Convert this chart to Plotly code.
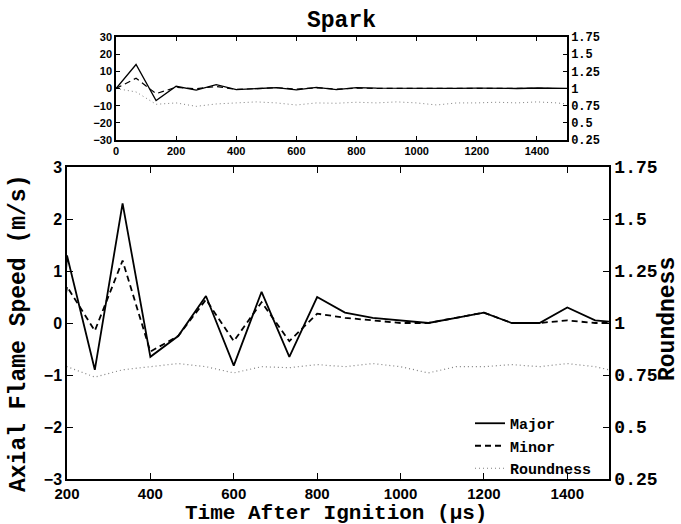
import plotly.graph_objects as go

# ---- data ----
time_us = [0, 66.7, 133.3, 200, 266.7, 333.3, 400, 466.7, 533.3, 600, 666.7, 733.3,
           800, 866.7, 933.3, 1000, 1066.7, 1133.3, 1200, 1266.7, 1333.3, 1400, 1466.7, 1533.3]
major = [0, 14, -7, 1.3, -0.9, 2.3, -0.65, -0.25, 0.52, -0.82, 0.6, -0.65,
         0.5, 0.2, 0.1, 0.05, 0.0, 0.1, 0.2, 0.0, 0.0, 0.3, 0.05, 0.0]
minor = [0, 6, -3, 0.7, -0.15, 1.2, -0.55, -0.25, 0.45, -0.35, 0.4, -0.35,
         0.18, 0.1, 0.05, 0.0, 0.0, 0.1, 0.2, 0.0, 0.0, 0.05, 0.0, 0.0]
roundness = [1.0, 0.95, 0.77, 0.79, 0.74, 0.775, 0.79, 0.805, 0.79, 0.76, 0.79, 0.785,
             0.80, 0.79, 0.805, 0.79, 0.76, 0.79, 0.79, 0.80, 0.79, 0.805, 0.79, 0.76]

main_xticks = [200, 400, 600, 800, 1000, 1200, 1400]
top_xticks = [0, 200, 400, 600, 800, 1000, 1200, 1400]
round_ticks = [0.25, 0.5, 0.75, 1, 1.25, 1.5, 1.75]
round_ticktext = ["0.25", "0.5", "0.75", "1", "1.25", "1.5", "1.75"]

W, H = 681, 524
SANS = "Liberation Sans"
MONO = "Liberation Mono"

major_line = dict(color="black", width=1.8)
minor_line = dict(color="black", width=1.8, dash="6px,4px")
round_line = dict(color="#808080", width=1.2, dash="1px,3px")

fig = go.Figure()
# main plot
fig.add_trace(go.Scatter(x=time_us, y=major, mode="lines", name="Major", line=major_line,
                         xaxis="x", yaxis="y"))
fig.add_trace(go.Scatter(x=time_us, y=minor, mode="lines", name="Minor", line=minor_line,
                         xaxis="x", yaxis="y"))
fig.add_trace(go.Scatter(x=time_us, y=roundness, mode="lines", name="Roundness", line=round_line,
                         xaxis="x", yaxis="y2"))
# top (spark) plot
fig.add_trace(go.Scatter(x=time_us, y=major, mode="lines", showlegend=False,
                         line=dict(color="black", width=1.3),
                         xaxis="x2", yaxis="y3"))
fig.add_trace(go.Scatter(x=time_us, y=minor, mode="lines", showlegend=False,
                         line=dict(color="black", width=1.2, dash="6px,4px"),
                         xaxis="x2", yaxis="y3"))
fig.add_trace(go.Scatter(x=time_us, y=roundness, mode="lines", showlegend=False,
                         line=dict(color="#808080", width=1.0, dash="1px,3px"),
                         xaxis="x2", yaxis="y4"))

def px_x(p):
    return p / W

def px_y(p):
    return 1 - p / H

axis_common = dict(showline=True, linecolor="black", linewidth=1.5, ticks="inside",
                   tickcolor="black", showgrid=False, zeroline=False, automargin=False)

fig.update_layout(
    template="none",
    width=W, height=H,
    margin=dict(l=0, r=0, t=0, b=0, pad=0, autoexpand=False),
    paper_bgcolor="white", plot_bgcolor="white",
    showlegend=True,
    legend=dict(x=px_x(470), y=px_y(407), xanchor="left", yanchor="top",
                bgcolor="rgba(0,0,0,0)", borderwidth=0,
                font=dict(family=MONO, size=15, color="black", weight="bold"),
                tracegroupgap=0),
    xaxis=dict(domain=[px_x(67), px_x(609)], range=[200, 1500], anchor="y",
               tickvals=main_xticks, ticklen=6, mirror="ticks",
               tickfont=dict(family=SANS, size=15, color="black", weight="bold"),
               **axis_common),
    yaxis=dict(domain=[px_y(479), px_y(167)], range=[-3, 3], anchor="x",
               tickvals=[-3, -2, -1, 0, 1, 2, 3], ticklen=6, mirror=True,
               tickfont=dict(family=SANS, size=16, color="black", weight="bold"),
               **axis_common),
    yaxis2=dict(overlaying="y", side="right", anchor="x", range=[0.25, 1.75],
                tickvals=round_ticks, ticktext=round_ticktext, ticklen=6,
                tickfont=dict(family=MONO, size=18, color="black", weight="bold"),
                **axis_common),
    xaxis2=dict(domain=[px_x(116), px_x(567)], range=[0, 1500], anchor="y3",
                tickvals=top_xticks, ticklen=4, mirror="ticks",
                tickfont=dict(family=SANS, size=11, color="black", weight="bold"),
                **axis_common),
    yaxis3=dict(domain=[px_y(140), px_y(37)], range=[-30, 30], anchor="x2",
                tickvals=[-30, -20, -10, 0, 10, 20, 30], ticklen=4, mirror=True,
                tickfont=dict(family=SANS, size=11, color="black", weight="bold"),
                **axis_common),
    yaxis4=dict(overlaying="y3", side="right", anchor="x2", range=[0.25, 1.75],
                tickvals=round_ticks, ticktext=round_ticktext, ticklen=4,
                tickfont=dict(family=MONO, size=12, color="black", weight="bold"),
                **axis_common),
)

ann_font_big = dict(family=MONO, size=23, color="black", weight="bold")
fig.add_annotation(text="Spark", x=px_x(341), y=px_y(21), xref="paper", yref="paper",
                   showarrow=False, xanchor="center", yanchor="middle", font=ann_font_big)
fig.add_annotation(text="Time After Ignition (μs)", x=px_x(336), y=px_y(513),
                   xref="paper", yref="paper", showarrow=False,
                   xanchor="center", yanchor="middle",
                   font=dict(family=MONO, size=21, color="black", weight="bold"))
fig.add_annotation(text="Axial Flame Speed (m/s)", x=px_x(19), y=px_y(334),
                   xref="paper", yref="paper", showarrow=False, textangle=-90,
                   xanchor="center", yanchor="middle", font=ann_font_big)
fig.add_annotation(text="Roundness", x=px_x(668), y=px_y(319),
                   xref="paper", yref="paper", showarrow=False, textangle=-90,
                   xanchor="center", yanchor="middle", font=ann_font_big)

fig.write_html("out.html",
               config={"displayModeBar": False},
               post_script="document.body.style.margin='0';document.body.style.overflow='hidden';")
